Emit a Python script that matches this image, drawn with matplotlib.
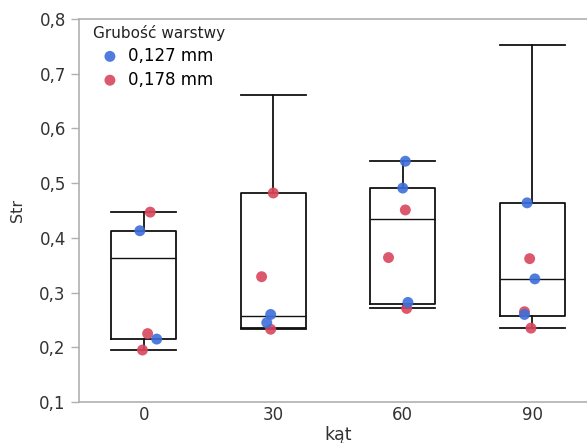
import numpy as np
import matplotlib.pyplot as plt

# kąt categories and box statistics
katy = ['0', '30', '60', '90']
whis_lo = [0.195, 0.233, 0.271, 0.235]
q1 = [0.215, 0.235, 0.280, 0.258]
mediana = [0.364, 0.258, 0.435, 0.324]
q3 = [0.413, 0.482, 0.491, 0.464]
whis_hi = [0.447, 0.662, 0.540, 0.753]

# individual points per group (category index, value, jitter)
kat_127 = [0, 0, 1, 1, 2, 2, 2, 3, 3, 3]
str_127 = [0.413, 0.215, 0.260, 0.245, 0.540, 0.491, 0.282, 0.464, 0.325, 0.260]
jit_127 = [-0.03, 0.10, -0.02, -0.05, 0.02, 0.0, 0.04, -0.04, 0.02, -0.06]

kat_178 = [0, 0, 0, 1, 1, 1, 2, 2, 2, 3, 3, 3]
str_178 = [0.447, 0.225, 0.195, 0.482, 0.329, 0.233, 0.451, 0.364, 0.271, 0.362, 0.265, 0.235]
jit_178 = [0.05, 0.03, -0.01, 0.0, -0.09, -0.02, 0.02, -0.11, 0.03, -0.02, -0.06, -0.01]

blue = '#3d6fda'
red = '#d9475d'
txt = '#333333'

fig = plt.figure(figsize=(5.87, 4.43), dpi=100)
ax = fig.add_axes([79/587, 41/443, (597-79)/587, (402-19)/443])

stats = []
for i in range(len(katy)):
    stats.append(dict(whislo=whis_lo[i], q1=q1[i], med=mediana[i], q3=q3[i], whishi=whis_hi[i], fliers=[]))

lp = dict(color='#111111', linewidth=1.3)
ax.bxp(stats, positions=np.arange(len(katy)), widths=0.5, showfliers=False,
       boxprops=lp, whiskerprops=lp, capprops=lp, medianprops=dict(color='#111111', linewidth=1.0),
       capwidths=0.5, zorder=2)

ax.scatter(np.array(kat_178) + np.array(jit_178), str_178, s=62, color=red, alpha=0.9,
           edgecolors='none', zorder=3, label='0,178 mm')
ax.scatter(np.array(kat_127) + np.array(jit_127), str_127, s=62, color=blue, alpha=0.9,
           edgecolors='none', zorder=4, label='0,127 mm')

ax.set_xlim(-0.5, 3.5)
ax.set_ylim(0.1, 0.8)
ax.set_yticks(np.arange(0.1, 0.81, 0.1))
ax.set_yticklabels([f'{v:.1f}'.replace('.', ',') for v in np.arange(0.1, 0.81, 0.1)])
ax.set_xticks(np.arange(len(katy)))
ax.set_xticklabels(katy)

for s in ['left', 'bottom', 'top']:
    ax.spines[s].set_color('#b0b0b0')
    ax.spines[s].set_linewidth(1.2)
ax.spines['right'].set_visible(False)
ax.tick_params(axis='y', colors='#b0b0b0', labelcolor=txt, labelsize=12, length=6, width=1)
ax.tick_params(axis='x', length=0, labelcolor=txt, labelsize=12, pad=3)

ax.set_ylabel('Str', fontsize=11.5, color=txt, labelpad=10)
ax.set_xlabel('kąt', fontsize=12.5, color=txt, labelpad=1)

h, l = ax.get_legend_handles_labels()
leg = ax.legend(h[::-1], l[::-1], title='Grubość warstwy', loc='upper left',
                bbox_to_anchor=(0.005, 1.015), frameon=False, fontsize=12,
                title_fontsize=11, alignment='left', handletextpad=0.1,
                labelspacing=0.35, borderaxespad=0.3, markerscale=1.0)
leg.get_title().set_color('#222222')

fig.savefig('out.png', dpi=100)
